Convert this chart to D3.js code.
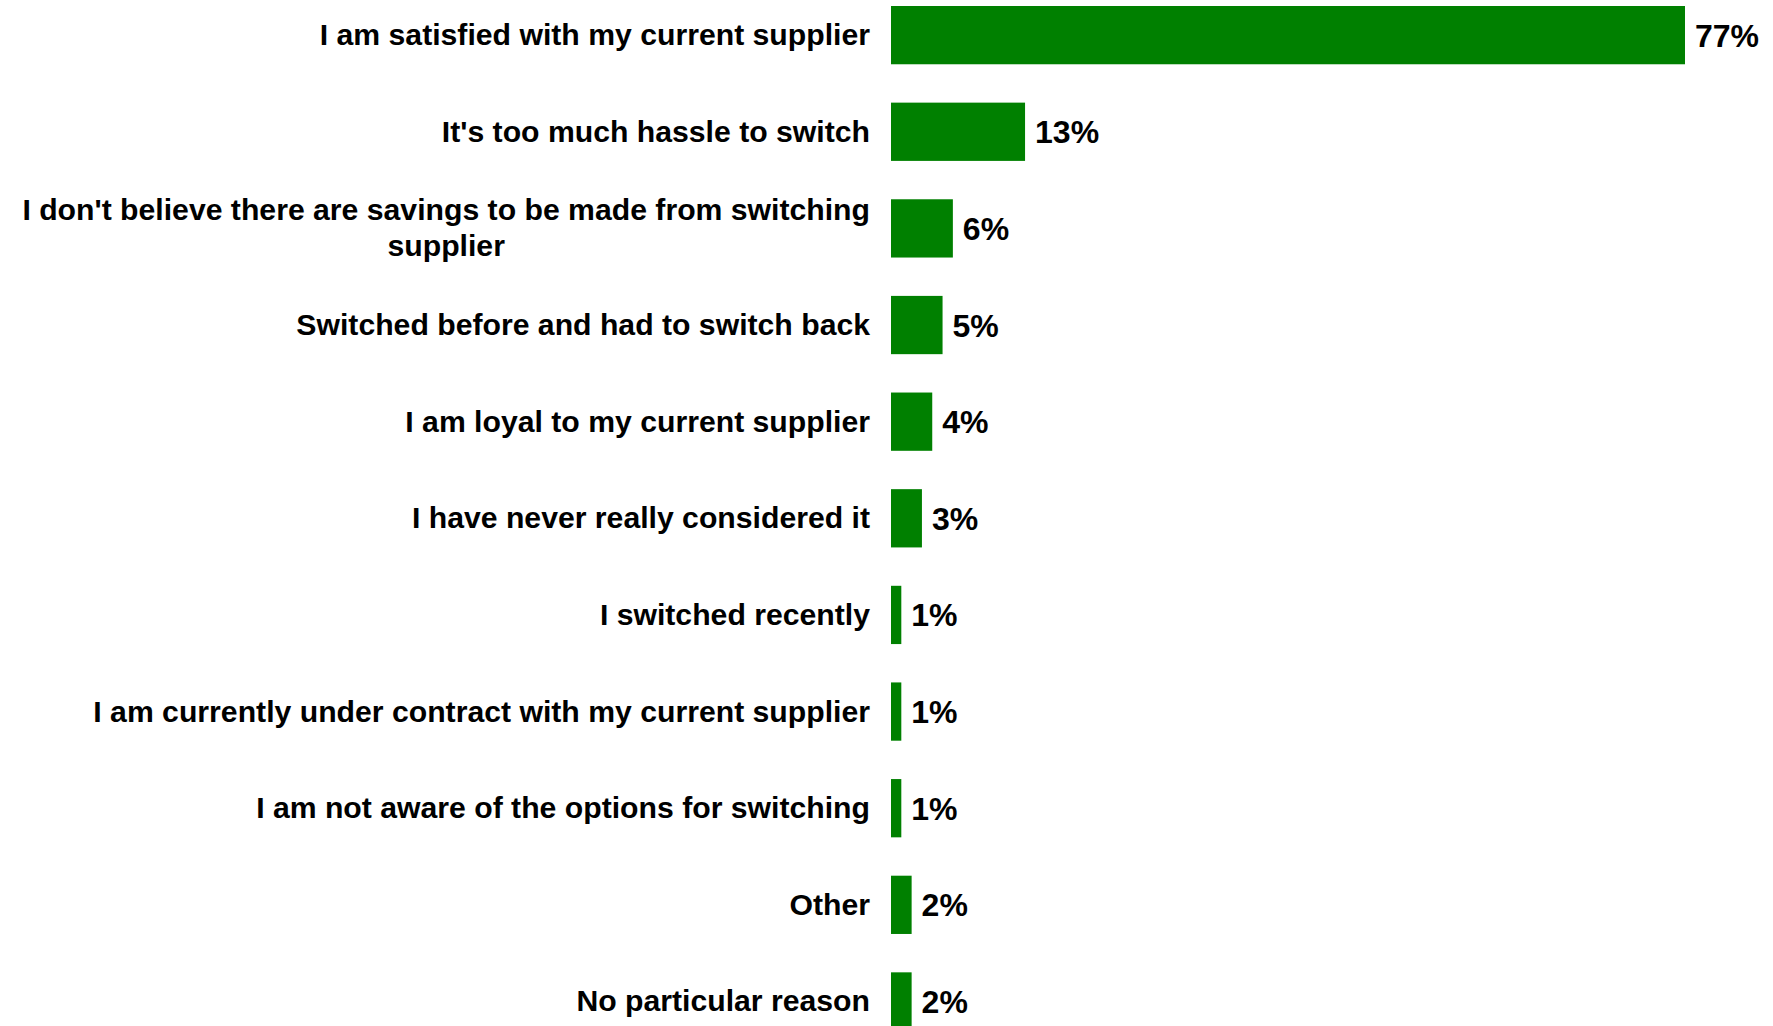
<!DOCTYPE html>
<html>
<head>
<meta charset="utf-8">
<script src="https://cdn.jsdelivr.net/npm/d3@7"></script>
<style>
  html, body { margin: 0; padding: 0; background: #fff; overflow: hidden; }
  svg { display: block; }
  text { font-family: "Liberation Sans", Arial, sans-serif; font-weight: bold; fill: #000; }
</style>
</head>
<body>
<svg id="chart" width="1773" height="1026"></svg>
<script>
// Reasons for not switching supplier (% of respondents)
const categories = [
  "I am satisfied with my current supplier",
  "It's too much hassle to switch",
  "I don't believe there are savings to be made from switching|supplier",
  "Switched before and had to switch back",
  "I am loyal to my current supplier",
  "I have never really considered it",
  "I switched recently",
  "I am currently under contract with my current supplier",
  "I am not aware of the options for switching",
  "Other",
  "No particular reason"
];
const values = [77, 13, 6, 5, 4, 3, 1, 1, 1, 2, 2];

const barColor = "#008000";
const svg = d3.select("#chart");

const labelRight = 870;
const x = d3.scaleLinear()
  .domain([0, d3.max(values)])
  .range([891, 1685]);

const y = d3.scaleBand()
  .domain(categories)
  .range([6, 1030.6])
  .paddingInner(0.397)
  .paddingOuter(0);

const rows = categories.map((c, i) => ({ cat: c, value: values[i] }));

// bars
svg.append("g").selectAll("rect")
  .data(rows)
  .join("rect")
  .attr("x", x(0))
  .attr("y", d => y(d.cat))
  .attr("width", d => x(d.value) - x(0))
  .attr("height", y.bandwidth())
  .attr("fill", barColor);

// value labels
svg.append("g").selectAll("text")
  .data(rows)
  .join("text")
  .attr("x", d => x(d.value) + 10)
  .attr("y", d => y(d.cat) + y.bandwidth() / 2 + 11.5)
  .attr("font-size", 32)
  .text(d => d.value + "%");

// category labels (multi-line labels are centred as a block, right-aligned to the axis)
const fs = 30.2, lineH = 36;
const labelG = svg.append("g");
rows.forEach(d => {
  const lines = d.cat.split("|");
  const cy = y(d.cat) + y.bandwidth() / 2;
  if (lines.length === 1) {
    labelG.append("text")
      .attr("x", labelRight)
      .attr("y", cy + 10)
      .attr("text-anchor", "end")
      .attr("font-size", fs)
      .text(lines[0]);
  } else {
    const t = labelG.append("text").attr("font-size", fs).attr("text-anchor", "middle");
    const spans = lines.map((ln, i) =>
      t.append("tspan")
        .attr("y", cy + 10 + (i - (lines.length - 1) / 2) * lineH)
        .text(ln));
    const maxW = d3.max(spans, s => s.node().getComputedTextLength());
    spans.forEach(s => s.attr("x", labelRight - maxW / 2));
  }
});
</script>
</body>
</html>
